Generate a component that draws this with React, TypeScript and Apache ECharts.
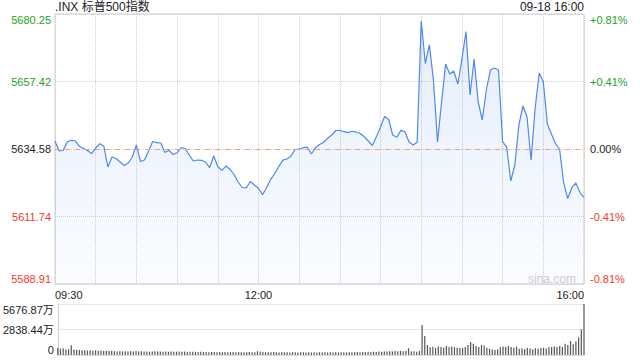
import React, { useEffect, useRef } from "react";
import * as echarts from "echarts";

const title = ".INX 标普500指数";
const stamp = "09-18 16:00";
const prevClose = 5634.58;
const step = 22.835;

// price every 3 minutes from 09:30 to 16:00
const priceData = [
  5637.29, 5633.9, 5634.07, 5636.95, 5637.52, 5637.29, 5635.49, 5634.75, 5634.07, 5632.99,
  5634.92, 5636.37, 5635.59, 5628.49, 5631.87, 5631.37, 5630.18, 5629.0, 5629.84, 5631.87,
  5635.93, 5630.35, 5630.86, 5633.9, 5637.12, 5636.71, 5636.61, 5633.4, 5634.14, 5632.72,
  5633.29, 5635.09, 5634.75, 5632.55, 5630.52, 5630.86, 5630.76, 5630.18, 5628.25, 5632.21,
  5628.66, 5627.37, 5628.8, 5627.75, 5625.95, 5623.42, 5621.56, 5621.39, 5623.59, 5622.4,
  5621.32, 5619.12, 5621.45, 5624.33, 5626.29, 5628.66, 5630.82, 5631.2, 5632.14, 5634.44,
  5634.58, 5635.02, 5635.19, 5632.89, 5635.02, 5636.1, 5636.88, 5638.2, 5639.32, 5640.84,
  5640.87, 5640.43, 5640.13, 5640.57, 5640.33, 5639.82, 5638.74, 5637.29, 5635.73, 5638.77,
  5642.02, 5645.61, 5644.56, 5639.32, 5638.57, 5640.87, 5640.4, 5636.95, 5635.93, 5636.88,
  5677.88, 5663.5, 5669.83, 5657.92, 5636.95, 5650.48, 5663.34, 5659.95, 5660.97, 5656.57,
  5665.03, 5674.33, 5652.85, 5665.03, 5650.48, 5644.39, 5654.54, 5661.31, 5661.98, 5661.31,
  5636.95, 5635.26, 5623.75, 5629.17, 5642.7, 5649.13, 5645.41, 5630.86, 5648.45, 5660.29,
  5657.35, 5643.04, 5639.65, 5636.37, 5634.58, 5623.15, 5617.83, 5621.39, 5623.08, 5619.83,
  5618.24,
];

// volume (万) every 2 minutes
const volumeData = [
  780, 700, 740, 620, 660, 1080, 620, 580,
  560, 520, 540, 500, 530, 480, 510, 470, 490, 450, 470, 440, 460,
  420, 400, 430, 390, 410, 380, 420, 400, 440, 390, 410, 380, 400, 370, 390, 420, 380, 400, 370,
  390, 360, 380, 350, 370, 390, 360, 380, 340, 360, 350, 370, 340, 360,
  330, 340, 320, 350, 330, 310, 340, 320, 330, 300, 320, 340, 310, 330, 300, 320, 310, 330, 300,
  320, 420, 360, 330, 310, 320, 300, 330, 310, 290, 320, 300, 310, 290, 320, 300, 280, 310, 300,
  290, 310, 280, 300, 290, 310,
  290, 300, 280, 310, 290, 300, 280, 300, 310, 290, 300, 320, 300, 330, 310, 340, 320, 350, 330,
  360, 340, 380, 360, 400, 380, 420, 400, 440, 420, 460, 430, 480,
  760,
  380, 420, 360, 440,
  3340, 2110, 1110,
  850, 920, 780, 950, 880, 820, 1000, 900, 950, 870, 820, 780, 750, 880,
  1100, 1450, 1250, 1000,
  900, 1100, 1050, 800, 700, 620, 560, 650,
  850, 950, 900, 1000, 880, 820, 950, 700,
  750, 680, 800, 720, 650, 760, 700, 780, 820, 720, 860, 900,
  950, 880, 1000, 900,
  1250, 1100, 1550, 1200,
  1500, 1950, 2850, 5676.87,
];

const leftTickLabels = ["5588.91", "5611.74", "5634.58", "5657.42", "5680.25"];
const rightTickLabels = ["-0.81%", "-0.41%", "0.00%", "+0.41%", "+0.81%"];
const timeTickMinutes = [0, 150, 390];
const timeTickLabels = ["09:30", "12:00", "16:00"];
const volTickLabels = ["0", "2838.44万", "5676.87万"];
const volMax = 5676.87;

const FONT = "'Liberation Sans', Arial, 'Noto Sans CJK SC', sans-serif";
const GREEN = "#1f9f1f";
const RED = "#f03a2e";
const DARK = "#222";

export default function App() {
  const ref = useRef<HTMLDivElement>(null);
  useEffect(() => {
    if (!ref.current) return;
    const chart = echarts.init(ref.current, undefined, { renderer: "svg" });
    const colorFor = (v: any) => {
      const n = Number(v);
      return n > 0.001 ? GREEN : n < -0.001 ? RED : DARK;
    };
    chart.setOption({
      animation: false,
      backgroundColor: "#fff",
      textStyle: { fontFamily: FONT },
      grid: [
        { left: 55, right: 56, top: 14, height: 270, show: true, borderColor: "#ccc", borderWidth: 1, backgroundColor: "transparent" },
        { left: 55, right: 56, top: 304, height: 51 },
      ],
      xAxis: [
        {
          type: "value", gridIndex: 0, min: 0, max: 390, interval: 30,
          axisLine: { show: false }, axisTick: { show: false },
          splitLine: { show: true, lineStyle: { color: "#d0d0d0", type: "dotted" } },
          axisLabel: {
            margin: 5, fontSize: 11, color: DARK, fontFamily: FONT,
            alignMinLabel: "left", alignMaxLabel: "right",
            formatter: (v: number) => {
              const k = timeTickMinutes.indexOf(Math.round(v));
              return k >= 0 ? timeTickLabels[k] : "";
            },
          },
        },
        {
          type: "value", gridIndex: 1, min: 0, max: 390, interval: 30,
          axisLine: { show: true, lineStyle: { color: "#ddd" } }, axisTick: { show: false },
          splitLine: { show: false }, axisLabel: { show: false },
        },
      ],
      yAxis: [
        {
          type: "value", gridIndex: 0, min: -2, max: 2, interval: 1,
          axisLine: { show: false }, axisTick: { show: false },
          splitLine: { show: true, lineStyle: { color: "#d0d0d0", type: "dotted" } },
          axisLabel: {
            margin: 4, fontSize: 11, fontFamily: FONT,
            verticalAlignMinLabel: "bottom", verticalAlignMaxLabel: "top",
            color: (v: any) => colorFor(v),
            formatter: (v: number) => leftTickLabels[Math.round(v) + 2],
          },
        },
        {
          type: "value", gridIndex: 0, min: -2, max: 2, interval: 1, position: "right",
          axisLine: { show: false }, axisTick: { show: false }, splitLine: { show: false },
          axisLabel: {
            margin: 6, fontSize: 11, fontFamily: FONT,
            verticalAlignMinLabel: "bottom", verticalAlignMaxLabel: "top",
            color: (v: any) => colorFor(v),
            formatter: (v: number) => rightTickLabels[Math.round(v) + 2],
          },
        },
        {
          type: "value", gridIndex: 1, min: 0, max: volMax, interval: volMax / 2,
          axisLine: { show: true, lineStyle: { color: "#ccc" } }, axisTick: { show: false },
          splitLine: { show: true, lineStyle: { color: "#ccc", type: "dotted" } },
          axisLabel: {
            margin: 4, fontSize: 11, color: DARK, fontFamily: FONT,
            verticalAlignMinLabel: "bottom", verticalAlignMaxLabel: "top",
            formatter: (_v: number, idx: number) => volTickLabels[idx] ?? "",
          },
        },
      ],
      series: [
        {
          type: "line", xAxisIndex: 0, yAxisIndex: 0, symbol: "none", smooth: false,
          data: priceData.map((p, i) => [i * 3, (p - prevClose) / step]),
          lineStyle: { color: "#4d88ee", width: 1.2 },
          areaStyle: {
            origin: "start",
            color: new echarts.graphic.LinearGradient(0, 0, 0, 1, [
              { offset: 0, color: "rgba(90,140,235,0.22)" },
              { offset: 1, color: "rgba(90,140,235,0.04)" },
            ]),
          },
          markLine: {
            silent: true, symbol: "none", label: { show: false },
            lineStyle: { color: "#f0a070", type: [5, 5], width: 1 },
            data: [{ yAxis: 0 }],
          },
        },
        {
          type: "bar", xAxisIndex: 1, yAxisIndex: 2, barWidth: 1.2,
          data: volumeData.map((v, i) => [i * 2, v]),
          itemStyle: { color: "#555" },
        },
      ],
      graphic: [
        { type: "text", left: 55, top: 1, style: { text: title, font: `12px ${FONT}`, fill: DARK } },
        { type: "text", right: 56, top: 1, style: { text: stamp, font: `12px ${FONT}`, fill: DARK } },
        { type: "text", x: 552, y: 279, style: { text: "sina.com", font: `12px ${FONT}`, fill: "#cfcfcf", textAlign: "center", textVerticalAlign: "middle" } },
      ],
    });
    return () => chart.dispose();
  }, []);
  return <div ref={ref} style={{ position: "absolute", left: 0, top: 0, width: 640, height: 360 }} />;
}
